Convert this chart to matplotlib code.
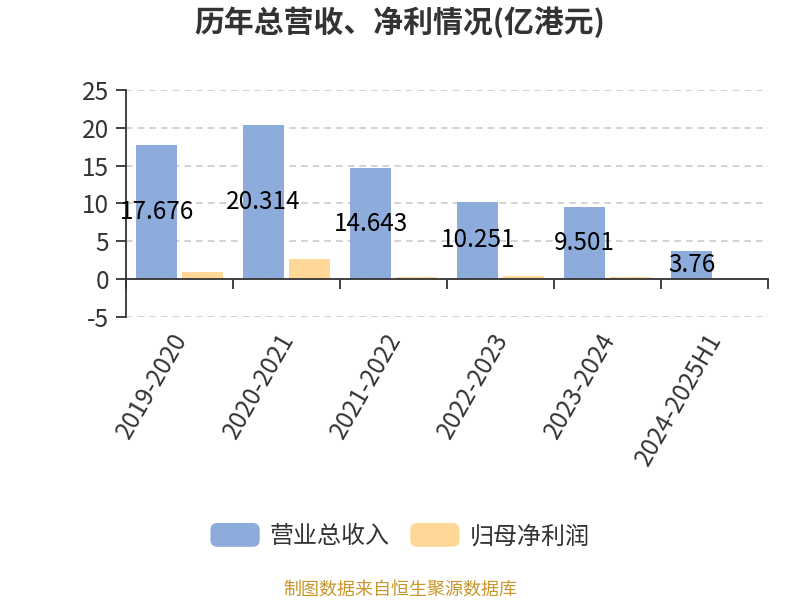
import matplotlib
matplotlib.use('Agg')
import matplotlib.pyplot as plt
from matplotlib.patches import FancyBboxPatch, Patch
from matplotlib.legend_handler import HandlerPatch
import matplotlib.transforms as mtransforms
import numpy as np

plt.rcParams['font.family'] = ['Noto Sans CJK SC', 'DejaVu Sans']

categories = ['2019-2020', '2020-2021', '2021-2022', '2022-2023', '2023-2024', '2024-2025H1']
revenue = [17.676, 20.314, 14.643, 10.251, 9.501, 3.76]
net_profit = [0.9, 2.6, 0.25, 0.38, 0.3, 0.05]
revenue_labels = ['17.676', '20.314', '14.643', '10.251', '9.501', '3.76']
y_ticks = [-5, 0, 5, 10, 15, 20, 25]
series_names = ['营业总收入', '归母净利润']
colors = ['#8eacdb', '#ffd898']

fig = plt.figure(figsize=(8, 6), dpi=100)
ax = fig.add_axes([126 / 800, 1 - 317 / 600, (768 - 126) / 800, (317 - 90) / 600])

x = np.arange(len(categories))
w = 0.385
off = 0.213
ax.bar(x - off, revenue, w, color=colors[0], zorder=3)
ax.bar(x + off, net_profit, w, color=colors[1], zorder=3)

for xi, v, lab in zip(x, revenue, revenue_labels):
    ax.text(xi - off, v / 2, lab, ha='center', va='center', fontsize=17.5,
            color='#000000', zorder=5)

ax.set_xlim(-0.5, len(categories) - 0.5)
ax.set_ylim(-5, 25)
ax.set_yticks(y_ticks)
ax.set_yticklabels([str(t) for t in y_ticks], fontsize=17.5, color='#333333')
ax.yaxis.grid(True, color='#cccccc', linestyle=(0, (4, 3)), linewidth=1.2, zorder=0)
ax.set_axisbelow(True)

for s in ['top', 'right']:
    ax.spines[s].set_visible(False)
ax.spines['left'].set_color('#333333')
ax.spines['left'].set_linewidth(1.3)
ax.spines['bottom'].set_position(('data', 0))
ax.spines['bottom'].set_color('#333333')
ax.spines['bottom'].set_linewidth(1.3)
ax.spines['bottom'].set_zorder(4)

ax.set_xticks(np.arange(len(categories) + 1) - 0.5)
ax.set_xticklabels([])
ax.tick_params(axis='x', direction='out', length=7, width=1.3, color='#333333')
ax.tick_params(axis='y', direction='out', length=7, width=1.3, color='#333333', pad=5)

trans = mtransforms.offset_copy(ax.get_xaxis_transform(), fig=fig, x=2, y=-18, units='dots')
for xi, lab in zip(x, categories):
    ax.text(xi, 0, lab, transform=trans, rotation=60, ha='right', va='center',
            rotation_mode='anchor', fontsize=17.5, color='#333333')

fig.text(0.5, 1 - 22 / 600, '历年总营收、净利情况(亿港元)', ha='center', va='center',
         fontsize=21.5, fontweight='bold', color='#333333')


class RoundHandler(HandlerPatch):
    def create_artists(self, legend, orig_handle, xdescent, ydescent, width, height, fontsize, trans):
        p = FancyBboxPatch((-xdescent, -ydescent), width, height,
                           boxstyle='round,pad=0,rounding_size=5',
                           facecolor=orig_handle.get_facecolor(), edgecolor='none',
                           transform=trans)
        return [p]


handles = [Patch(facecolor=c) for c in colors]
leg = fig.legend(handles, series_names, loc='center', bbox_to_anchor=(0.5, 1 - 536 / 600),
                 ncol=2, frameon=False, fontsize=17.3, handlelength=2.05, handleheight=1.15,
                 handletextpad=0.42, columnspacing=0.85,
                 handler_map={Patch: RoundHandler()})
for t in leg.get_texts():
    t.set_color('#333333')

fig.text(0.5, 1 - 590 / 600, '制图数据来自恒生聚源数据库', ha='center', va='center',
         fontsize=13, color='#c9962b')

fig.savefig('out.png', dpi=100)
